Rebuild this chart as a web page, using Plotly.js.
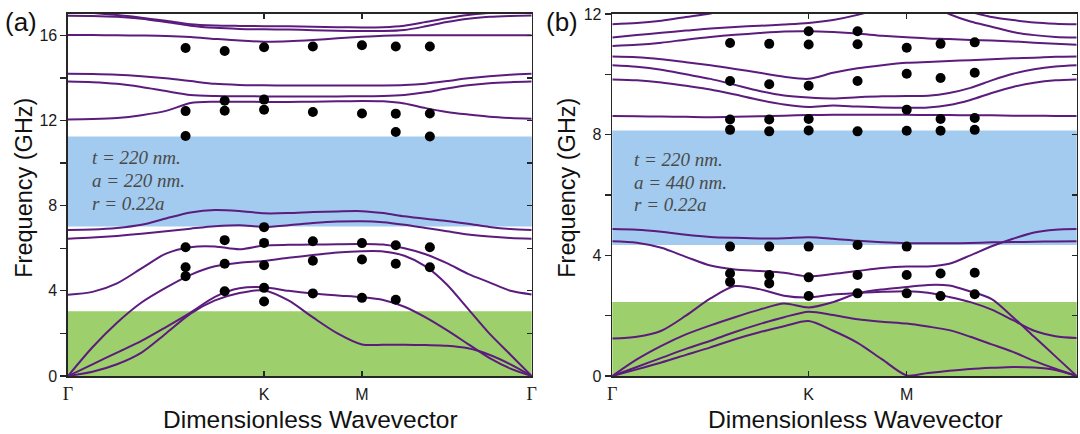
<!DOCTYPE html>
<html>
<head>
<meta charset="utf-8">
<script src="https://cdn.plot.ly/plotly-3.0.1.min.js"></script>
<style>
  html, body { margin: 0; padding: 0; background: #ffffff; }
  #chart { width: 1080px; height: 434px; }
</style>
</head>
<body>
<div id="chart"></div>
<script>
// Path Γ–K–M–Γ through the hexagonal Brillouin zone (reduced units)
const kTicks = [0, 0.6667, 1.0, 1.5774];
const gammaLabel = '<span style="font-family:Liberation Serif;font-size:18px">Γ</span>';
const kTickText = [gammaLabel, 'K', 'M', gammaLabel];

// k samples along the path used for the computed bands
const kPath = [0, 0.0833, 0.1667, 0.25, 0.3333, 0.4167, 0.5, 0.5833, 0.6667,
               0.75, 0.8333, 0.9167, 1.0,
               1.0722, 1.1443, 1.2165, 1.2887, 1.3609, 1.4330, 1.5052, 1.5774];

// ---- (a) a = 220 nm : computed bands (GHz) ----
const aBand1 = [0, 0.2, 0.55, 1.1, 2.0, 2.93, 3.55, 3.9, 4.02, 3.55, 2.75, 2.0, 1.48, 1.47, 1.47, 1.45, 1.42, 1.3, 1.0, 0.55, 0];
const aBand2 = [0, 0.55, 1.1, 1.65, 2.3, 2.98, 3.72, 4.12, 4.17, 4.0, 3.87, 3.78, 3.70, 3.57, 3.25, 2.75, 2.15, 1.5, 0.85, 0.35, 0];
const aBand3 = [0, 1.35, 2.5, 3.45, 4.15, 4.75, 5.15, 5.32, 5.4, 5.55, 5.68, 5.8, 5.86, 5.85, 5.65, 5.15, 4.3, 3.15, 2.0, 1.0, 0];
const aBand4 = [3.82, 3.95, 4.35, 5.05, 5.75, 6.05, 6.08, 5.95, 6.13, 6.16, 6.17, 6.19, 6.2, 6.17, 6.0, 5.72, 5.3, 4.8, 4.4, 4.0, 3.83];
const aBand5 = [6.44, 6.5, 6.58, 6.68, 6.8, 6.92, 7.03, 7.08, 7.0, 7.08, 7.18, 7.25, 7.27, 7.22, 7.1, 6.95, 6.8, 6.65, 6.55, 6.48, 6.44];
const aBand6 = [6.86, 6.88, 6.95, 7.1, 7.4, 7.68, 7.8, 7.75, 7.64, 7.65, 7.7, 7.73, 7.74, 7.65, 7.5, 7.38, 7.28, 7.15, 7.0, 6.9, 6.86];
const aBand7 = [12.05, 12.07, 12.12, 12.25, 12.45, 12.82, 12.88, 12.88, 12.87, 12.87, 12.88, 12.9, 12.92, 12.9, 12.8, 12.58, 12.4, 12.28, 12.18, 12.12, 12.08];
const aBand8 = [13.83, 13.8, 13.72, 13.57, 13.38, 13.2, 13.15, 13.14, 13.13, 13.13, 13.13, 13.13, 13.14, 13.15, 13.2, 13.32, 13.5, 13.65, 13.75, 13.8, 13.83];
const aBand9 = [14.19, 14.18, 14.15, 14.08, 13.98, 13.85, 13.72, 13.67, 13.65, 13.64, 13.64, 13.64, 13.64, 13.64, 13.66, 13.73, 13.85, 13.98, 14.08, 14.15, 14.19];
const aBand10 = [16.01, 16.01, 16.0, 15.99, 15.97, 15.92, 15.83, 15.75, 15.7, 15.72, 15.78, 15.86, 15.93, 15.98, 16.0, 16.0, 16.0, 16.0, 16.0, 16.0, 16.0];
const aBand11 = [16.92, 16.91, 16.87, 16.78, 16.62, 16.45, 16.35, 16.3, 16.28, 16.27, 16.24, 16.21, 16.2, 16.2, 16.25, 16.42, 16.62, 16.78, 16.87, 16.91, 16.93];
const aBand12 = [17.15, 17.05, 16.95, 16.83, 16.68, 16.52, 16.46, 16.44, 16.43, 16.42, 16.4, 16.38, 16.37, 16.38, 16.45, 16.62, 16.8, 16.95, 17.05, 17.12, 17.15];

// ---- (b) a = 440 nm : computed bands (GHz) ----
const bBand1 = [0, 0.22, 0.45, 0.7, 0.95, 1.22, 1.45, 1.65, 1.82, 1.5, 1.1, 0.55, 0.02, 0.1, 0.17, 0.23, 0.27, 0.3, 0.28, 0.2, 0];
const bBand2 = [0, 0.3, 0.6, 0.9, 1.17, 1.46, 1.72, 1.95, 2.13, 2.02, 1.88, 1.8, 1.74, 1.64, 1.52, 1.3, 1.05, 0.8, 0.5, 0.24, 0];
const bBand3 = [0, 0.55, 1.0, 1.38, 1.68, 1.95, 2.2, 2.4, 2.27, 2.45, 2.74, 2.87, 2.95, 3.02, 3.0, 2.8, 2.55, 1.95, 1.3, 0.65, 0];
const bBand4 = [1.24, 1.3, 1.5, 2.0, 2.57, 2.98, 2.88, 2.66, 2.6, 2.7, 2.75, 2.79, 2.81, 2.76, 2.62, 2.45, 2.2, 1.85, 1.5, 1.32, 1.26];
const bBand5 = [4.47, 4.42, 4.25, 3.95, 3.66, 3.53, 3.48, 3.42, 3.3, 3.38, 3.48, 3.58, 3.63, 3.63, 3.72, 4.0, 4.3, 4.55, 4.76, 4.85, 4.87];
const bBand6 = [4.87, 4.85, 4.78, 4.68, 4.61, 4.58, 4.56, 4.57, 4.6, 4.55, 4.48, 4.43, 4.4, 4.4, 4.4, 4.41, 4.43, 4.44, 4.45, 4.46, 4.47];
const bBand7 = [8.62, 8.61, 8.6, 8.59, 8.58, 8.59, 8.61, 8.63, 8.65, 8.66, 8.66, 8.66, 8.66, 8.65, 8.65, 8.64, 8.64, 8.63, 8.63, 8.62, 8.62];
const bBand8 = [9.83, 9.8, 9.73, 9.62, 9.5, 9.33, 9.15, 9.0, 8.92, 8.97, 8.93, 8.9, 8.89, 8.9, 8.98, 9.15, 9.38, 9.58, 9.72, 9.8, 9.83];
const bBand9 = [10.3, 10.25, 10.15, 10.0, 9.85, 9.65, 9.45, 9.3, 9.23, 9.2, 9.24, 9.27, 9.28, 9.29, 9.38, 9.55, 9.8, 10.02, 10.17, 10.26, 10.3];
const bBand10 = [10.59, 10.57, 10.5, 10.4, 10.3, 10.18, 10.05, 9.92, 9.85, 10.05, 10.2, 10.3, 10.38, 10.41, 10.44, 10.47, 10.5, 10.53, 10.55, 10.58, 10.59];
const bBand11 = [10.94, 10.98, 11.05, 11.15, 11.24, 11.31, 11.37, 11.42, 11.43, 11.4, 11.35, 11.28, 11.23, 11.19, 11.17, 11.14, 11.12, 11.09, 11.05, 11.01, 10.98];
const bBand12 = [11.22, 11.3, 11.38, 11.45, 11.52, 11.57, 11.61, 11.65, 11.7, 11.8, 11.97, 12.2, 12.45, 12.35, 12.0, 11.75, 11.58, 11.4, 11.3, 11.24, 11.22];
const bBand13 = [11.66, 11.7, 11.78, 11.9, 12.02, 12.2, 12.4, 12.55, 12.6, 12.62, 12.63, 12.63, 12.6, 12.45, 12.25, 12.07, 11.9, 11.8, 11.72, 11.68, 11.66];

// ---- measured resonances: one list of frequencies (GHz) per k column ----
const kMeasured = [0.4, 0.533, 0.667, 0.833, 1.0, 1.115, 1.231];
const aMeasured = [
  [15.40, 12.44, 11.27, 6.05, 5.11, 4.69],
  [15.26, 12.93, 12.46, 6.38, 5.27, 3.98],
  [15.44, 12.98, 12.50, 6.99, 6.25, 5.20, 4.14, 3.50],
  [15.47, 12.40, 6.33, 5.41, 3.88],
  [15.53, 12.33, 6.24, 5.47, 3.67],
  [15.47, 12.32, 11.46, 6.14, 5.27, 3.58],
  [15.47, 12.33, 11.25, 6.05, 5.11]
];
const bMeasured = [
  [11.04, 9.78, 8.50, 8.16, 4.29, 3.40, 3.12],
  [11.01, 9.67, 8.50, 8.11, 4.29, 3.35, 3.07],
  [11.43, 10.99, 9.62, 8.52, 8.14, 4.29, 3.27, 2.65],
  [11.43, 11.00, 9.78, 8.11, 4.34, 3.35, 2.74],
  [10.88, 10.02, 8.83, 8.13, 4.29, 3.35, 2.74],
  [11.01, 9.88, 8.52, 8.13, 3.40, 2.65],
  [11.06, 10.05, 8.55, 8.16, 3.42, 2.71]
];

// ---- band gaps (GHz): [bottom, top] ----
const aGapBlue = [7.02, 11.25];
const aGapGreen = [0, 3.04];
const bGapBlue = [4.34, 8.14];
const bGapGreen = [0, 2.45];

const aBands = [aBand1, aBand2, aBand3, aBand4, aBand5, aBand6, aBand7, aBand8, aBand9, aBand10, aBand11, aBand12];
const bBands = [bBand1, bBand2, bBand3, bBand4, bBand5, bBand6, bBand7, bBand8, bBand9, bBand10, bBand11, bBand12, bBand13];

const bandColor = '#5b1c7d';
const frameColor = '#262626';
const kMax = kTicks[kTicks.length - 1];

function bandTraces(bands, xa, ya) {
  return bands.map(f => ({
    type: 'scatter', mode: 'lines', x: kPath, y: f,
    xaxis: xa, yaxis: ya, hoverinfo: 'skip', showlegend: false,
    line: { color: bandColor, width: 2, shape: 'spline', smoothing: 0.8 }
  }));
}
function measuredTrace(cols, xa, ya) {
  const xs = [], ys = [];
  cols.forEach((col, i) => col.forEach(f => { xs.push(kMeasured[i]); ys.push(f); }));
  return {
    type: 'scatter', mode: 'markers', x: xs, y: ys, xaxis: xa, yaxis: ya,
    hoverinfo: 'skip', showlegend: false, cliponaxis: false,
    marker: { color: '#000000', size: 10, line: { width: 0 } }
  };
}
function emptyTrace(xa, ya) {
  return { type: 'scatter', mode: 'lines', x: [], y: [], xaxis: xa, yaxis: ya, hoverinfo: 'skip', showlegend: false };
}

const data = [
  ...bandTraces(aBands, 'x', 'y'), measuredTrace(aMeasured, 'x', 'y'),
  ...bandTraces(bBands, 'x2', 'y2'), measuredTrace(bMeasured, 'x2', 'y2'),
  emptyTrace('x3', 'y3'), emptyTrace('x4', 'y4')
];

function yTicks(maxF) {
  const vals = [], text = [];
  for (let v = 0; v <= maxF; v += 2) { vals.push(v); text.push(v % 4 === 0 ? String(v) : ''); }
  return { vals, text };
}
const aY = yTicks(16), bY = yTicks(12);

const xBase = {
  range: [0, kMax], tickmode: 'array', tickvals: kTicks, ticktext: kTickText,
  ticks: 'inside', ticklen: 5, tickwidth: 1.3, tickcolor: frameColor,
  showline: true, linecolor: frameColor, linewidth: 1.6, mirror: true,
  showgrid: false, zeroline: false, fixedrange: true,
  tickfont: { size: 16, color: '#1a1a1a' }, ticklabelstandoff: 3
};
function yBase(maxF, ticks) {
  return {
    range: [0, maxF], tickmode: 'array', tickvals: ticks.vals, ticktext: ticks.text,
    ticks: 'outside', ticklen: 6, tickwidth: 1.3, tickcolor: frameColor,
    showline: true, linecolor: frameColor, linewidth: 1.6, mirror: true,
    showgrid: false, zeroline: false, fixedrange: true,
    tickfont: { size: 16, color: '#1a1a1a' }
  };
}
function topAxis(over, anchor) {
  return {
    overlaying: over, anchor: anchor, side: 'top', range: [0, kMax],
    tickmode: 'array', tickvals: [kTicks[1], kTicks[2]], ticks: 'inside', ticklen: 5,
    tickwidth: 1.3, tickcolor: frameColor, showticklabels: false,
    showline: false, showgrid: false, zeroline: false, fixedrange: true
  };
}
function rightAxis(over, anchor, maxF, ticks) {
  return {
    overlaying: over, anchor: anchor, side: 'right', range: [0, maxF],
    tickmode: 'array', tickvals: ticks.vals, ticks: 'inside', ticklen: 5,
    tickwidth: 1.3, tickcolor: frameColor, showticklabels: false,
    showline: false, showgrid: false, zeroline: false, fixedrange: true
  };
}

const domA = [68 / 1080, 531.7 / 1080];
const domB = [612.3 / 1080, 1076.7 / 1080];

function gapShape(xref, yref, gap, color) {
  return { type: 'rect', xref: xref + ' domain', yref: yref, x0: 0, x1: 1,
           y0: gap[0], y1: gap[1], fillcolor: color, line: { width: 0 }, layer: 'below' };
}

const paramFont = { family: 'Liberation Serif, Times New Roman, serif', size: 19, color: '#4a4a4a' };
function paramNote(xa, ya, x, y, text) {
  return { xref: xa, yref: ya, x: x, y: y, text: '<i>' + text + '</i>', showarrow: false,
           xanchor: 'left', yanchor: 'middle', font: paramFont };
}
const titleFont = { family: 'Liberation Sans, Arial, sans-serif', size: 24.5, color: '#111111' };

const layout = {
  width: 1080, height: 434,
  margin: { l: 0, r: 0, t: 14, b: 58 },
  paper_bgcolor: '#ffffff', plot_bgcolor: '#ffffff',
  font: { family: 'Liberation Sans, Arial, sans-serif', color: '#1a1a1a' },
  showlegend: false,
  xaxis: Object.assign({ domain: domA, anchor: 'y' }, xBase),
  yaxis: Object.assign({ domain: [0, 1], anchor: 'x' }, yBase(17, aY)),
  xaxis2: Object.assign({ domain: domB, anchor: 'y2' }, xBase),
  yaxis2: Object.assign({ domain: [0, 1], anchor: 'x2' }, yBase(12, bY)),
  xaxis3: topAxis('x', 'y3'),
  yaxis3: rightAxis('y', 'x3', 17, aY),
  xaxis4: topAxis('x2', 'y4'),
  yaxis4: rightAxis('y2', 'x4', 12, bY),
  shapes: [
    gapShape('x', 'y', aGapBlue, '#a2cbef'),
    gapShape('x', 'y', aGapGreen, '#9dcf6c'),
    gapShape('x2', 'y2', bGapBlue, '#a2cbef'),
    gapShape('x2', 'y2', bGapGreen, '#9dcf6c')
  ],
  annotations: [
    paramNote('x', 'y', 0.075, 10.25, 't = 220 nm.'),
    paramNote('x', 'y', 0.075, 9.17, 'a = 220 nm.'),
    paramNote('x', 'y', 0.075, 8.1, 'r = 0.22a'),
    paramNote('x2', 'y2', 0.066, 7.17, 't = 220 nm.'),
    paramNote('x2', 'y2', 0.066, 6.40, 'a = 440 nm.'),
    paramNote('x2', 'y2', 0.066, 5.67, 'r = 0.22a'),
    { xref: 'paper', yref: 'paper', x: 24 / 1080, y: 0.52, text: 'Frequency (GHz)', textangle: -90,
      showarrow: false, xanchor: 'center', yanchor: 'middle', font: Object.assign({}, titleFont, { size: 23.5 }) },
    { xref: 'paper', yref: 'paper', x: 567 / 1080, y: 0.52, text: 'Frequency (GHz)', textangle: -90,
      showarrow: false, xanchor: 'center', yanchor: 'middle', font: Object.assign({}, titleFont, { size: 23.5 }) },
    { xref: 'paper', yref: 'paper', x: 310 / 1080, y: -0.1215, text: 'Dimensionless Wavevector',
      showarrow: false, xanchor: 'center', yanchor: 'middle', font: titleFont },
    { xref: 'paper', yref: 'paper', x: 855 / 1080, y: -0.1215, text: 'Dimensionless Wavevector',
      showarrow: false, xanchor: 'center', yanchor: 'middle', font: titleFont },
    { xref: 'paper', yref: 'paper', x: 21 / 1080, y: 0.978, text: '(a)', showarrow: false,
      xanchor: 'center', yanchor: 'middle', font: { size: 26, color: '#111111' } },
    { xref: 'paper', yref: 'paper', x: 562 / 1080, y: 0.978, text: '(b)', showarrow: false,
      xanchor: 'center', yanchor: 'middle', font: { size: 26, color: '#111111' } }
  ]
};

Plotly.newPlot('chart', data, layout, { staticPlot: true, displayModeBar: false });
</script>
</body>
</html>
